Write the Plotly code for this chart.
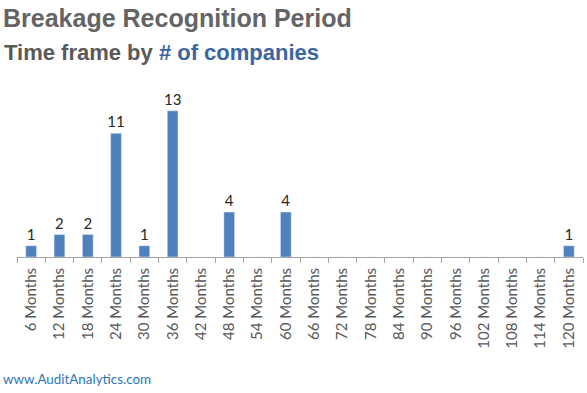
import plotly.graph_objects as go

categories = ["6 Months", "12 Months", "18 Months", "24 Months", "30 Months", "36 Months",
              "42 Months", "48 Months", "54 Months", "60 Months", "66 Months", "72 Months",
              "78 Months", "84 Months", "90 Months", "96 Months", "102 Months", "108 Months",
              "114 Months", "120 Months"]
values = [1, 2, 2, 11, 1, 13, 0, 4, 0, 4, 0, 0, 0, 0, 0, 0, 0, 0, 0, 1]
labels = [str(v) if v else "" for v in values]

W, H = 587, 393
L, R, T, B = 17, 4, 85, 136
ph = H - T - B

def py(y):
    return (H - B - y) / ph

def px(x):
    return (x - L) / (W - L - R)

fig = go.Figure(go.Bar(
    x=categories, y=values, text=labels, textposition="outside",
    constraintext="none",
    textfont=dict(family="Lato, Open Sans, sans-serif", size=15, color="#262626"),
    marker=dict(color="#4f81bd"), cliponaxis=False,
))

fig.update_layout(
    width=W, height=H, margin=dict(l=L, r=R, t=T, b=B, autoexpand=False),
    paper_bgcolor="white", plot_bgcolor="white",
    bargap=0.62, showlegend=False,
    xaxis=dict(tickangle=-90, tickson="boundaries", ticks="outside", ticklen=5,
               tickcolor="#a6a6a6", showline=True, linecolor="#a6a6a6", automargin=False,
               ticklabelstandoff=4,
               tickfont=dict(family="Lato, Open Sans, sans-serif", size=15, color="#595959"),
               showgrid=False),
    yaxis=dict(visible=False, range=[0, 15.3], showgrid=False),
    annotations=[
        dict(text="<b>Breakage Recognition Period</b>", x=px(1), y=py(18), xref="paper", yref="paper",
             xanchor="left", yanchor="middle", showarrow=False,
             font=dict(family="Liberation Sans, Arial, sans-serif", size=25, color="#646464")),
        dict(text="<b>Time frame by <span style='color:#3a65a0'># of companies</span></b>",
             x=px(2), y=py(53), xref="paper", yref="paper",
             xanchor="left", yanchor="middle", showarrow=False,
             font=dict(family="Liberation Sans, Arial, sans-serif", size=22, color="#595959")),
        dict(text="www.AuditAnalytics.com", x=px(1), y=py(379), xref="paper", yref="paper",
             xanchor="left", yanchor="middle", showarrow=False,
             font=dict(family="Lato, Open Sans, sans-serif", size=13.4, color="#2e75b6")),
    ],
)

fig.write_html("out.html", config={"displayModeBar": False},
               post_script="document.body.style.margin='0';document.body.style.padding='0';")
